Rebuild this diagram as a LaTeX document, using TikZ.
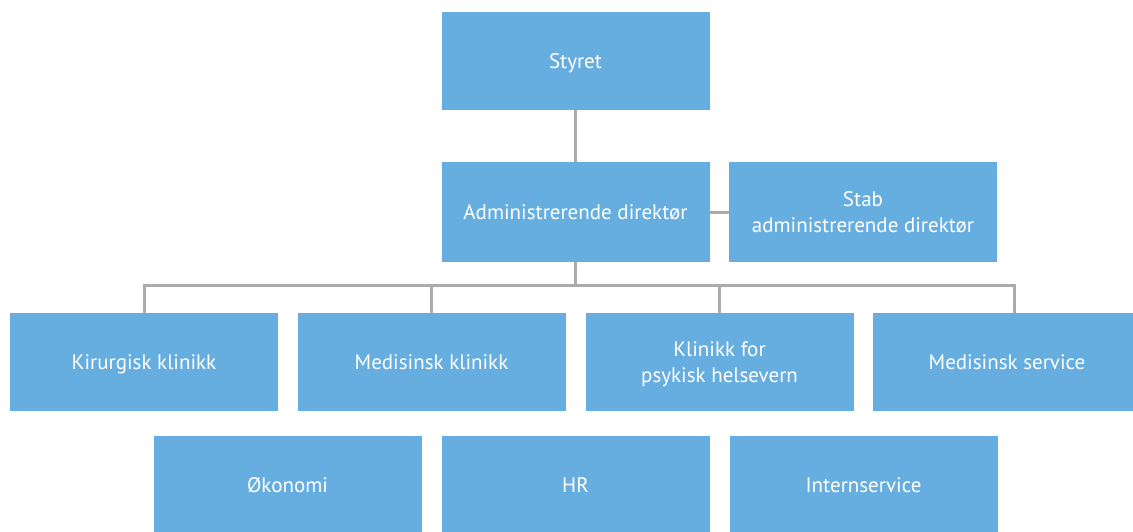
\documentclass[tikz,border=0pt]{standalone}
\usepackage{fontspec}
\setmainfont{PT Sans}

\definecolor{boxblue}{HTML}{67AEE0}
\definecolor{linkgray}{HTML}{ABABAB}

\begin{document}
\begin{tikzpicture}[
  x=1pt, y=-1pt,
  unit/.style={fill=boxblue, text=white, minimum width=268pt, minimum height=98pt,
    align=center, inner sep=0pt, text depth=0pt, font=\fontsize{21}{26.5}\selectfont},
  link/.style={draw=linkgray, line width=3pt},
]

\clip (0,0) rectangle (1133,531);

% top levels
\node [unit] (styret) at (575.5,61) {Styret};
\node [unit, minimum height=100pt] (admdir) at (575.5,212) {Administrerende direktør};
\node [unit, minimum height=100pt] (stab) at (863,212) {Stab\\administrerende direktør};

% clinics
\node [unit] (kir) at (144,362) {Kirurgisk klinikk};
\node [unit] (med) at (431.5,362) {Medisinsk klinikk};
\node [unit] (psyk) at (719.5,362) {Klinikk for\\psykisk helsevern};
\node [unit] (medserv) at (1007,362) {Medisinsk service};

% support
\node [unit] (okonomi) at (287.5,485) {Økonomi};
\node [unit] (hr) at (575.5,485) {HR};
\node [unit] (intern) at (863.5,485) {Internservice};

\coordinate (bar) at (575.5,285);

\draw [link] (styret) -- (admdir);
\draw [link] (admdir) -- (stab);
\draw [link] (admdir) -- (bar);
\draw [link] (kir.north) |- (bar) -| ([xshift=7pt]medserv.north);
\draw [link] (med.north) -- (med.north |- bar);
\draw [link] (psyk.north) -- (psyk.north |- bar);

\end{tikzpicture}
\end{document}
